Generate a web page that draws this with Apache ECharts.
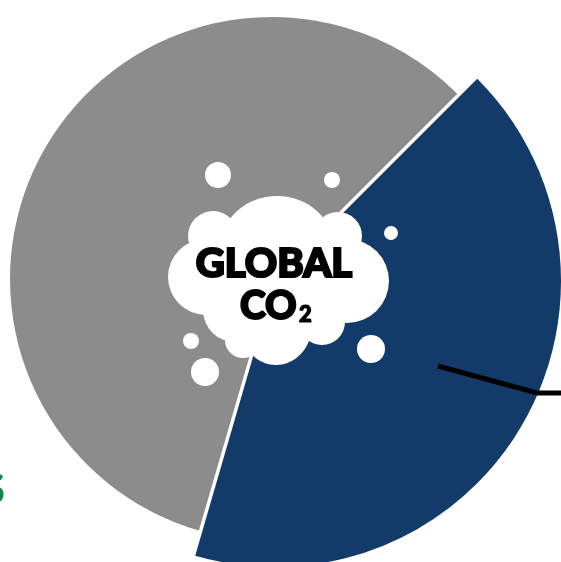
<!DOCTYPE html>
<html>
<head>
<meta charset="utf-8">
<style>html,body{margin:0;padding:0;background:#fff;overflow:hidden}#c{width:561px;height:562px}</style>
<script src="https://cdn.jsdelivr.net/npm/echarts@6/dist/echarts.min.js"></script>
</head>
<body>
<div id="c"></div>
<script>
var categories = ['Blue share', 'Gray share'];
var shares = [42, 58];
var titleLines = ['GLOBAL', 'CO', '2'];
var clippedLabel = 'S';

var BLUE = '#123b6a', GRAY = '#8c8c8c', GREEN = '#0b8a4b';
var lobes = [[213,236,25],[338,236,24],[206,277,38],[347,281,42],[235,310,32],[243,340,18],[322,322,23],[270,280,60]];
var ovals = [[277,246,56,50],[276,325,36,40]];
var bubbles = [[218,175,13],[332,180,8],[391,233,7],[371,349,14],[191,341,8],[205,372,14]];

function sector(center, radius, visibleIndex, color) {
  return {
    type: 'pie', center: center, radius: [0, radius], startAngle: 45, clockwise: true,
    silent: true, animation: false, label: {show: false}, labelLine: {show: false},
    data: categories.map(function (name, i) {
      return {name: name, value: shares[i],
        itemStyle: {color: i === visibleIndex ? color : 'rgba(0,0,0,0)'}};
    })
  };
}
function disc(p) {
  return {type: 'circle', z: 100, shape: {cx: p[0], cy: p[1], r: p[2]}, style: {fill: '#fff'}, silent: true};
}
function oval(p) {
  return {type: 'ellipse', z: 100, shape: {cx: p[0], cy: p[1], rx: p[2], ry: p[3]}, style: {fill: '#fff'}, silent: true};
}
var textStyle = {fontFamily: 'Lato', fontWeight: 900, fill: '#000', stroke: '#000', textVerticalAlign: 'middle'};
function label(text, x, y, size, align, weight) {
  return {type: 'text', z: 110, x: x, y: y, silent: true, style: Object.assign({}, textStyle,
    {text: text, fontSize: size, textAlign: align, lineWidth: weight})};
}

var chart = echarts.init(document.getElementById('c'), null, {renderer: 'canvas'});
chart.setOption({
  backgroundColor: '#fff',
  animation: false,
  series: [sector([272, 279], 262, 1, GRAY), sector([275, 281], 286, 0, BLUE)],
  graphic: lobes.map(disc).concat(ovals.map(oval)).concat(bubbles.map(disc)).concat([
    label(titleLines[0], 274, 264, 40, 'center', 2.2),
    label(titleLines[1], 240, 306, 39, 'left', 2),
    label(titleLines[2], 299, 315, 22, 'left', 1.2),
    {type: 'polyline', z: 100, shape: {points: [[438,366],[537,393],[561,393]]}, silent: true,
      style: {stroke: '#000', lineWidth: 5, fill: 'none'}},
    {type: 'text', z: 100, x: 5, y: 490, silent: true, style: {text: clippedLabel, fontFamily: 'Lato', fontWeight: 900,
      fontSize: 42, fill: GREEN, textAlign: 'right', textVerticalAlign: 'middle'}}
  ])
});
</script>
</body>
</html>
